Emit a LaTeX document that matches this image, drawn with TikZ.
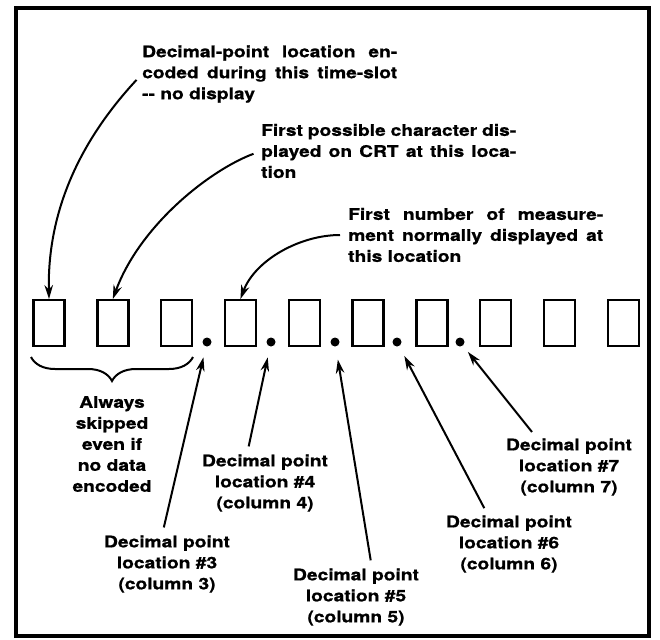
\documentclass[tikz,border=0pt]{standalone}
\usepackage{fontspec}
\setmainfont{TeX Gyre Heros}[FakeStretch=1.2, BoldFeatures={FakeBold=0.8}]
\usepackage{tikz}
\usetikzlibrary{arrows.meta}
\usetikzlibrary{decorations.pathreplacing}

\newcommand{\fullline}[1]{\makebox[255pt][s]{#1}}

\tikzset{
    cell/.style={draw, line width=2.4pt, minimum width=31pt, minimum height=45.5pt, inner sep=0pt},
    dotmark/.style={circle, fill, minimum size=9pt, inner sep=0pt},
    txt/.style={font=\fontsize{16}{21}\selectfont\bfseries, inner sep=0pt},
    pointer/.style={line width=2pt, -{Stealth[length=14pt,width=8.5pt]}, shorten <=8pt},
}

\begin{document}
\begin{tikzpicture}[x=1pt, y=-1pt]
    \useasboundingbox (0,0) rectangle (660,639);
    \draw[line width=3.5pt] (16,8) rectangle (649,636);

    % character cells and decimal points
    \foreach \i in {1,...,10}
        \node[cell] (c\i) at ({49+(\i-1)*63.8},323) {};
    \node[dotmark] (p3) at (207,342) {};
    \node[dotmark] (p4) at (271,342) {};
    \node[dotmark] (p5) at (335,342) {};
    \node[dotmark] (p6) at (397,342) {};
    \node[dotmark] (p7) at (460,342) {};

    % top notes
    \node[txt, anchor=west, align=left] (t1) at (142,74)
        {\fullline{Decimal-point location en-}\\\fullline{coded during this time-slot}\\-{}- no display};
    \node[txt, anchor=west, align=left] (t2) at (261,151)
        {\fullline{First possible character dis-}\\\fullline{played on CRT at this loca-}\\tion};
    \node[txt, anchor=west, align=left] (t3) at (348,235)
        {\fullline{First number of measure-}\\\fullline{ment normally displayed at}\\this location};

    \draw[pointer] (t1.west) .. controls (90,130) and (47,200) .. (c1.north);
    \draw[pointer] (t2.west) .. controls (210,170) and (140,225) .. (c2.north);
    \draw[pointer] (t3.west) .. controls (300,235) and (255,260) .. (c4.north);

    % brace under the skipped cells
    \draw[line width=2pt, decorate, decoration={brace, amplitude=24pt}] (193,357) -- (31,357);
    \node[txt, align=center] (skip) at (112,444) {Always\\skipped\\even if\\no data\\encoded};

    % decimal point locations
    \node[txt, align=center] (l3) at (167,564) {Decimal point\\location \#3\\(column 3)};
    \node[txt, align=center] (l4) at (265,483) {Decimal point\\location \#4\\(column 4)};
    \node[txt, align=center] (l5) at (356,597) {Decimal point\\location \#5\\(column 5)};
    \node[txt, align=center] (l6) at (509,544) {Decimal point\\location \#6\\(column 6)};
    \node[txt, align=center] (l7) at (569,467) {Decimal point\\location \#7\\(column 7)};

    \draw[pointer, shorten >=11pt] ([xshift=-5pt]l3.north) -- (p3);
    \draw[pointer, shorten >=11pt] ([xshift=-18pt]l4.north) -- (p4);
    \draw[pointer, shorten >=13pt] ([xshift=16pt]l5.north) -- (p5);
    \draw[pointer, shorten >=11pt] ([xshift=-21pt]l6.north) -- (p6);
    \draw[pointer, shorten >=8pt] ([xshift=-32pt]l7.north) -- (p7);
\end{tikzpicture}
\end{document}
